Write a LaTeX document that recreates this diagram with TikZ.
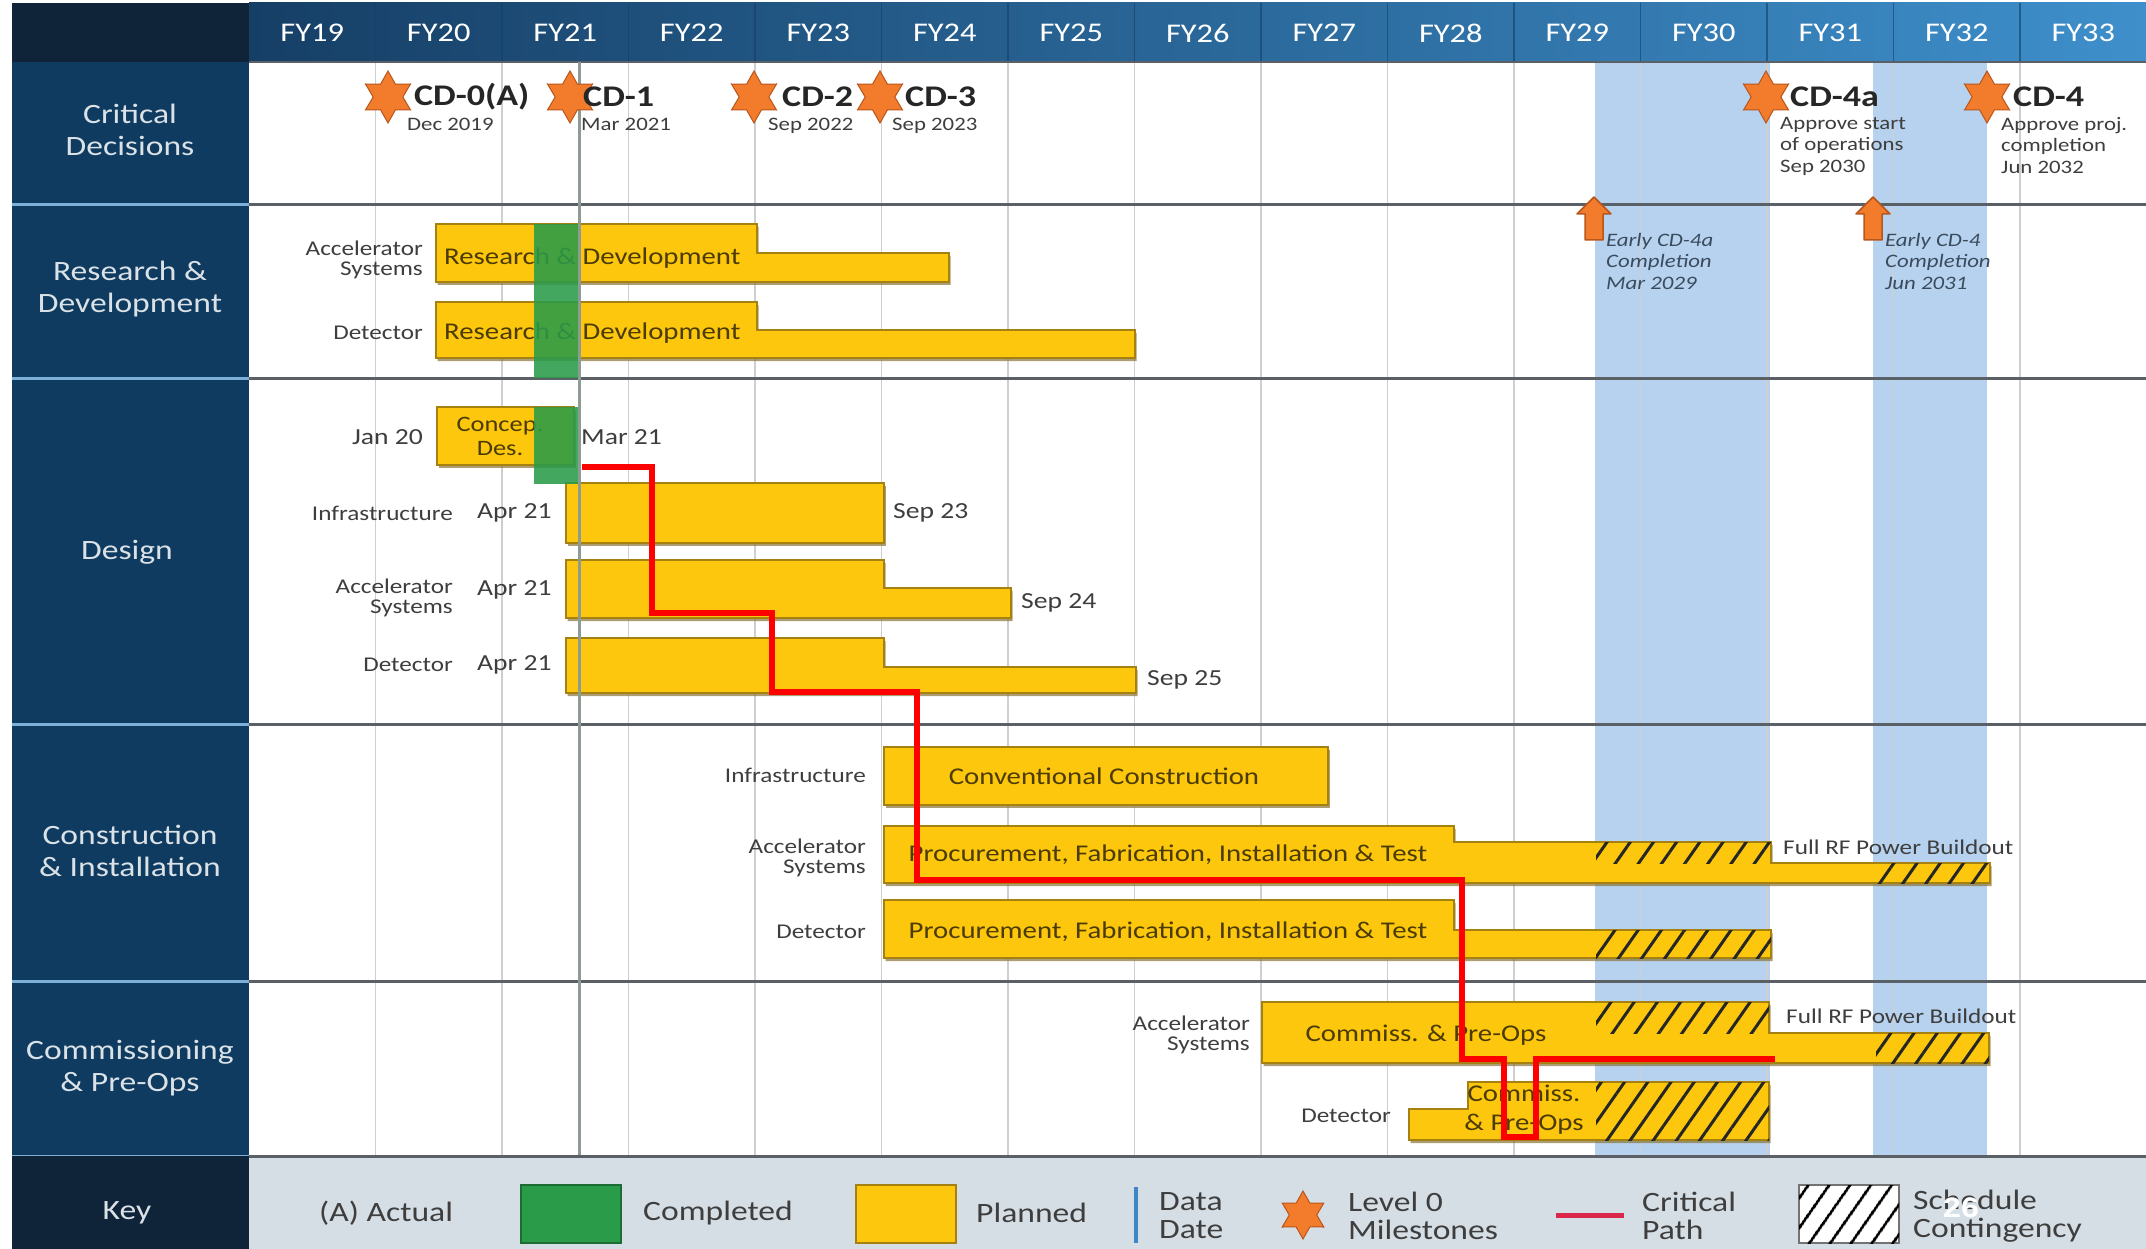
\documentclass[tikz,border=0pt]{standalone}
\usepackage{fontspec}
\setmainfont{Carlito}[FakeStretch=1.2]
\newfontfamily\pagefont{Liberation Sans}[FakeStretch=1.15]
\usetikzlibrary{positioning,shapes.geometric,patterns.meta,shadows}

\definecolor{navy}{HTML}{0E3B5F}
\definecolor{cornerNavy}{HTML}{0F2438}
\definecolor{hdrDark}{HTML}{163F66}
\definecolor{hdrLight}{HTML}{3E8FCB}
\definecolor{sepBlue}{HTML}{7DB0D8}
\definecolor{gridGray}{HTML}{CFCFCF}
\definecolor{rowLine}{HTML}{5B6067}
\definecolor{contBlue}{HTML}{B6D2EE}
\definecolor{barYellow}{HTML}{FCC70C}
\definecolor{barEdge}{HTML}{A58111}
\definecolor{barShadow}{HTML}{8A7438}
\definecolor{barText}{HTML}{4B3B05}
\definecolor{doneGreen}{HTML}{2A9B49}
\definecolor{starOrange}{HTML}{F27B2C}
\definecolor{starEdge}{HTML}{B8561C}
\definecolor{dataLine}{HTML}{8C9C94}
\definecolor{keyBack}{HTML}{D6DEE5}
\definecolor{labelGray}{HTML}{3E3E3E}
\definecolor{noteBlue}{HTML}{3A4B5E}
\definecolor{pathRed}{HTML}{FF0000}
\definecolor{keyRed}{HTML}{D9264A}
\definecolor{keyBlue}{HTML}{3D85C6}

\newcommand{\fysize}{\fontsize{27}{30}\selectfont}
\newcommand{\rowsize}{\fontsize{28}{32}\selectfont}
\newcommand{\barsize}{\fontsize{24}{29}\selectfont}
\newcommand{\subsize}{\fontsize{21}{20}\selectfont}
\newcommand{\datesize}{\fontsize{23}{24}\selectfont}
\newcommand{\cdsize}{\fontsize{30}{32}\selectfont}
\newcommand{\notesize}{\fontsize{19}{21.5}\selectfont}
\newcommand{\keysize}{\fontsize{28}{28}\selectfont}

\begin{document}
\begin{tikzpicture}[x=1pt, y=-1pt,
    fy/.style={text=white, font=\fysize, inner sep=0},
    rowlabel/.style={text=white!85!navy, font=\rowsize, align=center, inner sep=0},
    gridline/.style={draw=gridGray, line width=1.5pt},
    rowsep/.style={draw=rowLine, line width=3pt},
    bar/.style={fill=barYellow, draw=barEdge, line width=1.5pt,
        drop shadow={shadow xshift=1.5pt, shadow yshift=-3pt, fill=barShadow, opacity=.7}},
    hatch/.style={pattern={Lines[angle=55,distance=19pt,line width=3pt]}, pattern color=black!85},
    bartext/.style={text=barText, font=\barsize, inner sep=0},
    sublabel/.style={text=labelGray, font=\subsize, align=right, inner sep=0, anchor=east},
    rflabel/.style={text=labelGray, font=\subsize, inner sep=0, anchor=west},
    datelabel/.style={text=labelGray, font=\datesize, inner sep=0},
    done/.style={fill=doneGreen, fill opacity=.88},
    milestone/.style={star, star points=6, star point ratio=1.75, minimum size=52pt, inner sep=0,
        fill=starOrange, draw=starEdge, line width=1pt},
    cdlabel/.style={font=\cdsize\bfseries, text=black!85, inner sep=0, anchor=west},
    cdnote/.style={font=\notesize, text=labelGray, inner sep=0, align=left, anchor=north west},
    earlyarrow/.style={fill=starOrange, draw=starEdge, line width=1.5pt, line join=round},
    earlynote/.style={font=\notesize\itshape, text=noteBlue, inner sep=0, align=left, anchor=north west},
    critical/.style={draw=pathRed, line width=5.5pt},
    keytext/.style={font=\keysize, text=labelGray, inner sep=0, align=left, anchor=west},
    keybox/.style={minimum width=100pt, minimum height=58pt, inner sep=0, line width=2pt},
    keyhatch/.style={fill=white, draw=black!55,
        postaction={pattern={Lines[angle=55,distance=17pt,line width=3pt]}, pattern color=black}},
    pagenum/.style={font=\pagefont\bfseries\fontsize{28}{30}\selectfont, text=white, inner sep=0}]

    \useasboundingbox (0,0) rectangle (2146,1249);
    \fill[white] (0,0) rectangle (2146,1249);

    % ~~~~ Contingency bands and grid ~~~~ %
    \fill[contBlue] (1595,62) rectangle (1770,1156);
    \fill[contBlue] (1873,62) rectangle (1987,1156);
    \foreach \i in {1,...,14}
        \draw[gridline] ({249+126.5*\i},62) -- ({249+126.5*\i},1156);

    % ~~~~ Header ~~~~ %
    \shade[left color=hdrDark, right color=hdrLight] (249,3) rectangle (2146,62);
    \fill[cornerNavy] (12,3) rectangle (249,62);
    \foreach \i in {1,...,14}
        \draw[hdrDark, line width=1.5pt, opacity=.6] ({249+126.5*\i},3) -- ++(0,59);
    \foreach \yr [count=\i from 0] in {19,...,33}
        \node[fy] (fy\yr) at ({249+126.5*(\i+0.5)},33) {FY\yr};

    % ~~~~ Row titles ~~~~ %
    \fill[navy] (12,62) rectangle (249,1156);
    \foreach \yy in {205,378,724,981,1156}
        \draw[sepBlue, line width=3pt] (12,\yy) -- (249,\yy);
    \node[rowlabel] (cdrow) at (130,130) {Critical\\Decisions};
    \node[rowlabel] (rdrow) at (130,289) {Research \&\\Development};
    \node[rowlabel] (dsrow) at (127,552) {Design};
    \node[rowlabel] (cirow) at (130,851) {Construction\\\& Installation};
    \node[rowlabel] (cprow) at (130,1068) {Commissioning\\\& Pre-Ops};

    % ~~~~ Row lines ~~~~ %
    \draw[rowLine, line width=2pt] (249,62) -- (2146,62);
    \foreach \yy in {205,378,724,981,1156}
        \draw[rowsep] (249,\yy) -- (2146,\yy);

    % ~~~~ Research & Development ~~~~ %
    \draw[bar] (436,224) -- (757,224) -- (757,253) -- (949,253) -- (949,282) -- (436,282) -- cycle;
    \node[bartext, anchor=west] (rdacc) at (444,258) {Research \& Development};
    \node[sublabel] (rdaccl) at (423,260) {Accelerator\\Systems};
    \draw[bar] (436,302) -- (757,302) -- (757,330) -- (1135,330) -- (1135,358) -- (436,358) -- cycle;
    \node[bartext, anchor=west] (rddet) at (444,333) {Research \& Development};
    \node[sublabel] (rddetl) at (423,333) {Detector};

    % ~~~~ Design ~~~~ %
    \draw[bar] (437,407) rectangle (574,465);
    \node[bartext, align=center, font=\fontsize{22}{24}\selectfont] (concep) at (500,436) {Concep.\\Des.};
    \node[datelabel, anchor=east] (jan20) at (423,437) {Jan 20};
    \node[datelabel, anchor=west] (mar21) at (581,437) {Mar 21};

    \draw[bar] (566,483) rectangle (884,543);
    \node[sublabel] (dsinfl) at (453,513) {Infrastructure};
    \node[datelabel, anchor=west] (dsinfs) at (477,513) {Apr 21};
    \node[datelabel, anchor=west] (dsinfe) at (893,513) {Sep 23};

    \draw[bar] (566,560) -- (884,560) -- (884,588) -- (1011,588) -- (1011,618) -- (566,618) -- cycle;
    \node[sublabel] (dsaccl) at (453,598) {Accelerator\\Systems};
    \node[datelabel, anchor=west] (dsaccs) at (477,590) {Apr 21};
    \node[datelabel, anchor=west] (dsacce) at (1021,603) {Sep 24};

    \draw[bar] (566,638) -- (884,638) -- (884,667) -- (1136,667) -- (1136,693) -- (566,693) -- cycle;
    \node[sublabel] (dsdetl) at (453,665) {Detector};
    \node[datelabel, anchor=west] (dsdets) at (477,665) {Apr 21};
    \node[datelabel, anchor=west] (dsdete) at (1147,680) {Sep 25};

    % ~~~~ Construction & Installation ~~~~ %
    \draw[bar] (884,747) rectangle (1328,805);
    \node[bartext] (conv) at (1104,776) {Conventional Construction};
    \node[sublabel] (ciinfl) at (866,775) {Infrastructure};

    \draw[bar] (884,826) -- (1454,826) -- (1454,842) -- (1771,842) -- (1771,863) -- (1990,863) -- (1990,883) -- (884,883) -- cycle;
    \path[hatch] (1596,842) rectangle (1771,863);
    \path[hatch] (1874,863) rectangle (1990,883);
    \node[bartext] (ciacc) at (1168,855) {Procurement, Fabrication, Installation \& Test};
    \node[sublabel] (ciaccl) at (866,858) {Accelerator\\Systems};
    \node[rflabel] (cirf) at (1783,847) {Full RF Power Buildout};

    \draw[bar] (884,900) -- (1454,900) -- (1454,930) -- (1771,930) -- (1771,958) -- (884,958) -- cycle;
    \path[hatch] (1596,930) rectangle (1771,958);
    \node[bartext] (cidet) at (1168,932) {Procurement, Fabrication, Installation \& Test};
    \node[sublabel] (cidetl) at (866,932) {Detector};

    % ~~~~ Commissioning & Pre-Ops ~~~~ %
    \draw[bar] (1262,1002) -- (1769,1002) -- (1769,1033) -- (1989,1033) -- (1989,1063) -- (1262,1063) -- cycle;
    \path[hatch] (1596,1002) rectangle (1769,1033);
    \path[hatch] (1876,1033) rectangle (1989,1063);
    \node[bartext] (cpacc) at (1426,1035) {Commiss. \& Pre-Ops};
    \node[sublabel] (cpaccl) at (1250,1035) {Accelerator\\Systems};
    \node[rflabel] (cprf) at (1786,1016) {Full RF Power Buildout};

    \draw[bar] (1409,1109) -- (1468,1109) -- (1468,1082) -- (1769,1082) -- (1769,1140) -- (1409,1140) -- cycle;
    \path[hatch] (1596,1082) rectangle (1769,1140);
    \node[bartext, align=center] (cpdet) at (1524,1110) {Commiss.\\\& Pre-Ops};
    \node[sublabel] (cpdetl) at (1391,1116) {Detector};

    % ~~~~ Completed work and data date ~~~~ %
    \fill[done] (534,224) rectangle (579,378);
    \fill[done] (534,407) rectangle (579,484);
    \coordinate (ddtop) at (579,62);
    \coordinate (ddbot) at (579,1156);
    \draw[dataLine, line width=3pt] (ddtop) -- (ddbot);

    % ~~~~ Critical path ~~~~ %
    \coordinate (cpstart) at (582,467);
    \coordinate (cpend) at (1775,1059);
    \draw[critical] (cpstart) -- (652,467) -- (652,613) -- (772,613) -- (772,692) -- (917,692)
        -- (917,880) -- (1462,880) -- (1462,1059) -- (1504,1059) -- (1504,1137) -- (1536,1137)
        -- (1536,1059) -- (cpend);

    % ~~~~ Critical decisions ~~~~ %
    \node[milestone] (cd0) at (388,97) {};
    \node[cdlabel] (cd0t) at (414,97) {CD-0(A)};
    \node[cdnote] (cd0d) at (407,118) {Dec 2019};
    \node[milestone] (cd1) at (570,97) {};
    \node[cdlabel] (cd1t) at (583,97) {CD-1};
    \node[cdnote] (cd1d) at (581,118) {Mar 2021};
    \node[milestone] (cd2) at (754,97) {};
    \node[cdlabel] (cd2t) at (782,97) {CD-2};
    \node[cdnote] (cd2d) at (768,118) {Sep 2022};
    \node[milestone] (cd3) at (880,97) {};
    \node[cdlabel] (cd3t) at (905,97) {CD-3};
    \node[cdnote] (cd3d) at (892,118) {Sep 2023};
    \node[milestone] (cd4a) at (1766,97) {};
    \node[cdlabel] (cd4at) at (1790,97) {CD-4a};
    \node[cdnote] (cd4ad) at (1780,117) {Approve start\\of operations\\Sep 2030};
    \node[milestone] (cd4) at (1987,97) {};
    \node[cdlabel] (cd4t) at (2013,97) {CD-4};
    \node[cdnote] (cd4d) at (2001,117) {Approve proj.\\completion\\Jun 2032};

    % ~~~~ Early completion ~~~~ %
    \draw[earlyarrow, shift={(1594,219)}] (0,-22) -- (17,-5) -- (9,-5) -- (9,21) -- (-9,21) -- (-9,-5) -- (-17,-5) -- cycle;
    \node[earlynote] (early4at) at (1606,233) {Early CD-4a\\Completion\\Mar 2029};
    \draw[earlyarrow, shift={(1873,219)}] (0,-22) -- (17,-5) -- (9,-5) -- (9,21) -- (-9,21) -- (-9,-5) -- (-17,-5) -- cycle;
    \node[earlynote] (early4t) at (1885,233) {Early CD-4\\Completion\\Jun 2031};

    % ~~~~ Key ~~~~ %
    \fill[keyBack] (249,1156) rectangle (2146,1249);
    \fill[cornerNavy] (12,1156) rectangle (249,1249);
    \draw[rowsep] (249,1156) -- (2146,1156);
    \node[rowlabel] (keyrow) at (127,1213) {Key};
    \node[keytext] (actual) at (319,1213) {(A) Actual};
    \node[keybox, fill=doneGreen, draw=doneGreen!70!black] (keydone) at (571,1214) {};
    \node[keytext] (keydonet) at (643,1213) {Completed};
    \node[keybox, fill=barYellow, draw=barEdge] (keyplan) at (906,1214) {};
    \node[keytext] (keyplant) at (976,1213) {Planned};
    \coordinate (keydatetop) at (1136,1187);
    \coordinate (keydatebot) at (1136,1243);
    \draw[keyBlue, line width=4pt] (keydatetop) -- (keydatebot);
    \node[keytext] (keydatet) at (1159,1216) {Data\\Date};
    \node[milestone, minimum size=48pt] (keystar) at (1303,1215) {};
    \node[keytext] (keystart) at (1348,1216) {Level 0\\Milestones};
    \coordinate (keypatha) at (1556,1215);
    \coordinate (keypathb) at (1624,1215);
    \draw[keyRed, line width=5pt] (keypatha) -- (keypathb);
    \node[keytext] (keypatht) at (1642,1216) {Critical\\Path};
    \node[keybox, keyhatch] (keycont) at (1849,1214) {};
    \node[keytext] (keycontt) at (1913,1216) {Schedule\\Contingency};
    \node[pagenum] (page) at (1961,1208) {26};
\end{tikzpicture}
\end{document}
